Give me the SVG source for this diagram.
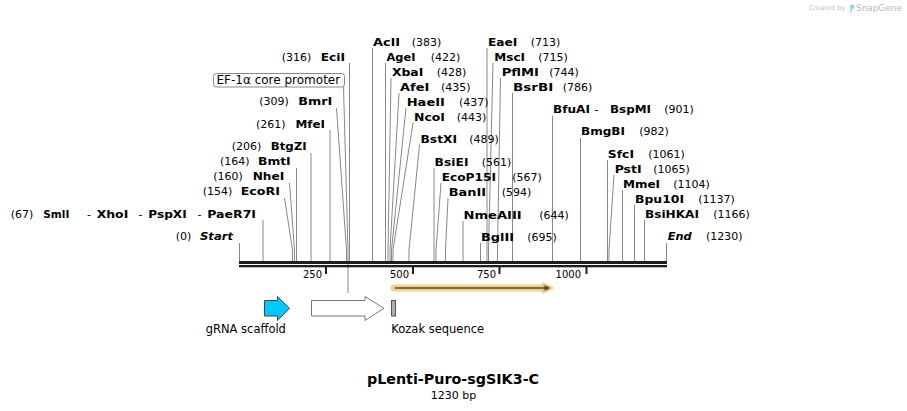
<svg xmlns="http://www.w3.org/2000/svg" width="907" height="411" viewBox="0 0 907 411">
<style>
text{font-family:"DejaVu Sans",Verdana,"Liberation Sans",sans-serif;fill:#000}
.n{font-size:11px;font-weight:bold}
.bi{font-size:11px;font-weight:bold;font-style:italic}
.p{font-size:11px}
.t{font-size:10px}
.f{font-size:11.5px}
.cl{stroke:#888;stroke-width:1;fill:none}
</style>
<rect width="907" height="411" fill="#fff"/>
<g id="watermark">
<text x="809" y="10" style="font-size:6.6px;fill:#c4c4c4">Created by</text>
<path d="M850 4.5 h2.5 a2.2 2.2 0 0 1 0 4.4 h-0.8 v3.5 h-1.7z" fill="#9fd3f0"/>
<text x="856" y="11" style="font-size:8.9px;fill:#b8b8b8">SnapGene</text>
</g>
<g id="connectors">
<path class="cl" d="M239.5 243V261"/>
<path class="cl" d="M263 220V261"/>
<path class="cl" d="M284.5 198L292.5 250V261"/>
<path class="cl" d="M289.5 183L294.5 250V261"/>
<path class="cl" d="M296.5 168V261"/>
<path class="cl" d="M311 153V261"/>
<path class="cl" d="M330 130V261"/>
<path class="cl" d="M336.5 108L346.5 250V261"/>
<path class="cl" d="M343.5 87L348 250V293"/>
<path class="cl" d="M349.5 63V261"/>
<path class="cl" d="M372.5 48V261"/>
<path class="cl" d="M385.5 63V261"/>
<path class="cl" d="M391 78L388 250V261"/>
<path class="cl" d="M399 93L390 250V261"/>
<path class="cl" d="M406 108L391.5 250V261"/>
<path class="cl" d="M413 123L393 250V261"/>
<path class="cl" d="M419.5 145L409 250V261"/>
<path class="cl" d="M434 168V261"/>
<path class="cl" d="M441 183L436 250V261"/>
<path class="cl" d="M448 198L445.5 250V261"/>
<path class="cl" d="M463 221V261"/>
<path class="cl" d="M480.5 243V261"/>
<path class="cl" d="M487 48V261"/>
<path class="cl" d="M493 63L488.5 250V261"/>
<path class="cl" d="M500.5 78L497.5 250V261"/>
<path class="cl" d="M512.5 93V261"/>
<path class="cl" d="M552.5 116V261"/>
<path class="cl" d="M580.5 138V261"/>
<path class="cl" d="M607.5 160V261"/>
<path class="cl" d="M614 175L609 250V261"/>
<path class="cl" d="M622.5 190V261"/>
<path class="cl" d="M634.5 205V261"/>
<path class="cl" d="M644.5 220V261"/>
<path class="cl" d="M666.5 243V261"/>
</g>
<g id="sequence">
<rect x="239" y="261" width="428" height="3" fill="#1e1e1e"/>
<rect x="239" y="265" width="428" height="2.3" fill="#1e1e1e"/>
<rect x="325" y="267" width="2" height="7" fill="#1e1e1e"/>
<rect x="412" y="267" width="2" height="7" fill="#1e1e1e"/>
<rect x="498.5" y="267" width="2" height="7" fill="#1e1e1e"/>
<rect x="585.5" y="267" width="2" height="7" fill="#1e1e1e"/>
<text class="t" x="322" y="278" text-anchor="end">250</text>
<text class="t" x="409" y="278" text-anchor="end">500</text>
<text class="t" x="496" y="278" text-anchor="end">750</text>
<text class="t" x="581" y="278" text-anchor="end">1000</text>
</g>
<g id="start"><text class="p" x="175.7" y="240">(0)</text><text class="bi" x="200" y="240" textLength="33" lengthAdjust="spacingAndGlyphs">Start</text></g>
<g id="end"><text class="bi" x="667.7" y="240" textLength="24" lengthAdjust="spacingAndGlyphs">End</text><text class="p" x="706" y="240">(1230)</text></g>
<g id="SmlI"><text class="p" x="10.7" y="218">(67)</text><text class="n" x="43.3" y="218" textLength="26" lengthAdjust="spacingAndGlyphs">SmlI</text><text class="p" x="87" y="218">-</text><text class="n" x="96.7" y="218" textLength="31.6" lengthAdjust="spacingAndGlyphs">XhoI</text><text class="p" x="138.5" y="218">-</text><text class="n" x="148.3" y="218" textLength="38.4" lengthAdjust="spacingAndGlyphs">PspXI</text><text class="p" x="197.5" y="218">-</text><text class="n" x="207.3" y="218" textLength="48.7" lengthAdjust="spacingAndGlyphs">PaeR7I</text></g>
<g id="EcoRI"><text class="p" x="202.7" y="195">(154)</text><text class="n" x="240.7" y="195" textLength="39.3" lengthAdjust="spacingAndGlyphs">EcoRI</text></g>
<g id="NheI"><text class="p" x="213.3" y="180">(160)</text><text class="n" x="252.7" y="180" textLength="31.6" lengthAdjust="spacingAndGlyphs">NheI</text></g>
<g id="BmtI"><text class="p" x="220" y="165">(164)</text><text class="n" x="258" y="165" textLength="32.7" lengthAdjust="spacingAndGlyphs">BmtI</text></g>
<g id="BtgZI"><text class="p" x="231.7" y="149.5">(206)</text><text class="n" x="270.7" y="149.5" textLength="36" lengthAdjust="spacingAndGlyphs">BtgZI</text></g>
<g id="MfeI"><text class="p" x="256" y="127.5">(261)</text><text class="n" x="295.5" y="127.5" textLength="29.5" lengthAdjust="spacingAndGlyphs">MfeI</text></g>
<g id="BmrI"><text class="p" x="259.3" y="105">(309)</text><text class="n" x="298.3" y="105" textLength="34" lengthAdjust="spacingAndGlyphs">BmrI</text></g>
<g id="EciI"><text class="p" x="281.7" y="61">(316)</text><text class="n" x="320.7" y="61" textLength="24.3" lengthAdjust="spacingAndGlyphs">EciI</text></g>
<g id="EF1a-label"><rect x="213.5" y="73.5" width="131" height="13.5" rx="3" fill="#fff" stroke="#888"/><text x="216.5" y="84" style="font-size:12px">EF-1α core promoter</text></g>
<g id="AclI"><text class="n" x="373" y="46" textLength="27" lengthAdjust="spacingAndGlyphs">AclI</text><text class="p" x="411.7" y="46">(383)</text></g>
<g id="AgeI"><text class="n" x="386.5" y="61" textLength="29" lengthAdjust="spacingAndGlyphs">AgeI</text><text class="p" x="430.7" y="61">(422)</text></g>
<g id="XbaI"><text class="n" x="392" y="76" textLength="31.3" lengthAdjust="spacingAndGlyphs">XbaI</text><text class="p" x="436.7" y="76">(428)</text></g>
<g id="AfeI"><text class="n" x="400" y="91" textLength="29.3" lengthAdjust="spacingAndGlyphs">AfeI</text><text class="p" x="441" y="91">(435)</text></g>
<g id="HaeII"><text class="n" x="406.7" y="106" textLength="38.3" lengthAdjust="spacingAndGlyphs">HaeII</text><text class="p" x="459" y="106">(437)</text></g>
<g id="NcoI"><text class="n" x="414" y="121" textLength="31" lengthAdjust="spacingAndGlyphs">NcoI</text><text class="p" x="456.7" y="121">(443)</text></g>
<g id="BstXI"><text class="n" x="420.5" y="142.5" textLength="36.5" lengthAdjust="spacingAndGlyphs">BstXI</text><text class="p" x="469.3" y="142.5">(489)</text></g>
<g id="BsiEI"><text class="n" x="434.5" y="166" textLength="34" lengthAdjust="spacingAndGlyphs">BsiEI</text><text class="p" x="481.7" y="166">(561)</text></g>
<g id="EcoP15I"><text class="n" x="441.7" y="181" textLength="54.3" lengthAdjust="spacingAndGlyphs">EcoP15I</text><text class="p" x="512.3" y="181">(567)</text></g>
<g id="BanII"><text class="n" x="448.7" y="196" textLength="37.3" lengthAdjust="spacingAndGlyphs">BanII</text><text class="p" x="501.7" y="196">(594)</text></g>
<g id="NmeAIII"><text class="n" x="463.5" y="218.5" textLength="58.2" lengthAdjust="spacingAndGlyphs">NmeAIII</text><text class="p" x="539.3" y="218.5">(644)</text></g>
<g id="BglII"><text class="n" x="480.9" y="241" textLength="33.1" lengthAdjust="spacingAndGlyphs">BglII</text><text class="p" x="527.3" y="241">(695)</text></g>
<g id="EaeI"><text class="n" x="487.9" y="46" textLength="29.4" lengthAdjust="spacingAndGlyphs">EaeI</text><text class="p" x="530.7" y="46">(713)</text></g>
<g id="MscI"><text class="n" x="494.3" y="61" textLength="30.7" lengthAdjust="spacingAndGlyphs">MscI</text><text class="p" x="538.3" y="61">(715)</text></g>
<g id="PflMI"><text class="n" x="501.7" y="76" textLength="37.3" lengthAdjust="spacingAndGlyphs">PflMI</text><text class="p" x="549.3" y="76">(744)</text></g>
<g id="BsrBI"><text class="n" x="513" y="91" textLength="40.3" lengthAdjust="spacingAndGlyphs">BsrBI</text><text class="p" x="562.7" y="91">(786)</text></g>
<g id="BfuAI"><text class="n" x="553" y="113" textLength="37" lengthAdjust="spacingAndGlyphs">BfuAI</text><text class="p" x="594.5" y="113">-</text><text class="n" x="610" y="113" textLength="41" lengthAdjust="spacingAndGlyphs">BspMI</text><text class="p" x="664.3" y="113">(901)</text></g>
<g id="BmgBI"><text class="n" x="581" y="135" textLength="44" lengthAdjust="spacingAndGlyphs">BmgBI</text><text class="p" x="639.3" y="135">(982)</text></g>
<g id="SfcI"><text class="n" x="607.8" y="158" textLength="26.2" lengthAdjust="spacingAndGlyphs">SfcI</text><text class="p" x="648.3" y="158">(1061)</text></g>
<g id="PstI"><text class="n" x="614.7" y="173" textLength="27" lengthAdjust="spacingAndGlyphs">PstI</text><text class="p" x="653.3" y="173">(1065)</text></g>
<g id="MmeI"><text class="n" x="623" y="188" textLength="37" lengthAdjust="spacingAndGlyphs">MmeI</text><text class="p" x="673.3" y="188">(1104)</text></g>
<g id="Bpu10I"><text class="n" x="635" y="203" textLength="49" lengthAdjust="spacingAndGlyphs">Bpu10I</text><text class="p" x="698.3" y="203">(1137)</text></g>
<g id="BsiHKAI"><text class="n" x="645" y="218" textLength="54" lengthAdjust="spacingAndGlyphs">BsiHKAI</text><text class="p" x="713.3" y="218">(1166)</text></g>
<g id="orf">
<path d="M394 288H546" stroke="#f7c25e" stroke-width="7" stroke-linecap="round" opacity="0.75" fill="none"/>
<polygon points="543,283.5 552.5,288 543,292.5" fill="#f7c25e" stroke="#f7c25e" stroke-width="2" stroke-linejoin="round" opacity="0.75"/>
<path d="M395 288H546" stroke="#4a4a4a" stroke-width="1.6" fill="none"/>
<polygon points="544.5,285.3 550.5,288 544.5,290.7" fill="#4a4a4a"/>
</g>
<g id="gRNA-scaffold">
<polygon points="264.5,300.5 277.5,300.5 277.5,296.5 289.5,308.3 277.5,320.5 277.5,316 264.5,316" fill="#00c8ff" stroke="#444" stroke-width="1"/>
<text class="f" x="205.7" y="333.3">gRNA scaffold</text>
</g>
<g id="EF1a-core-promoter">
<polygon points="311.5,300.5 365,300.5 365,296.5 384,308.3 365,320.5 365,316 311.5,316" fill="#fff" stroke="#777" stroke-width="1"/>
</g>
<g id="Kozak">
<rect x="391.5" y="300.5" width="4" height="15.5" fill="#a8b0b8" stroke="#555"/>
<text class="f" x="391.3" y="333.3">Kozak sequence</text>
</g>
<g id="title">
<text x="453" y="384" text-anchor="middle" style="font-size:14.3px;font-weight:bold">pLenti-Puro-sgSIK3-C</text>
<text x="453.5" y="398.5" text-anchor="middle" class="p">1230 bp</text>
</g>
</svg>
